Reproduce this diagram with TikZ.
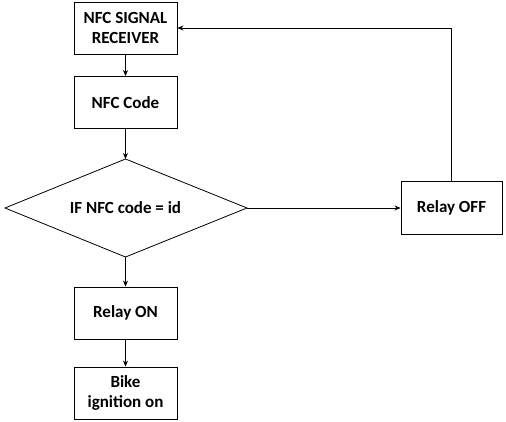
\documentclass[tikz,border=0pt]{standalone}
\usepackage{fontspec}
\setmainfont{Carlito}
\usetikzlibrary{arrows.meta,shapes.geometric}
\begin{document}
\begin{tikzpicture}[x=1pt,y=-1pt,
  txt/.style={font=\fontsize{17}{20}\selectfont\bfseries},
  box/.style={txt,draw=black,line width=0.9pt,minimum width=103pt,minimum height=52pt,align=center,inner sep=0pt},
  conn/.style={draw=black,line width=0.8pt,-{Stealth[length=6pt,width=5pt]}}]
\useasboundingbox (0,0) rectangle (506,422);
\node[box] (rx) at (125.5,28) {NFC SIGNAL\\RECEIVER};
\node[box] (code) at (125.5,102.5) {NFC Code};
\coordinate (dt) at (125.5,159);
\coordinate (dl) at (5,208);
\coordinate (dr) at (247,208);
\coordinate (db) at (125.5,257);
\draw[line width=0.8pt] (dt) -- (dr) -- (db) -- (dl) -- cycle;
\node[txt] (cond) at (125.5,208) {IF NFC code = id};
\node[box,minimum width=101pt,minimum height=53pt] (off) at (451.5,208) {Relay OFF};
\node[box] (on) at (125.5,313) {Relay ON};
\node[box] (bike) at (125.5,393) {Bike\\ignition on};
\draw[conn] (rx) -- (code);
\draw[conn] (code) -- (dt);
\draw[conn] (dr) -- (off);
\draw[conn] (db) -- (on);
\draw[conn] (on) -- (bike);
\draw[conn] (off.north) |- (rx.east);
\end{tikzpicture}
\end{document}
